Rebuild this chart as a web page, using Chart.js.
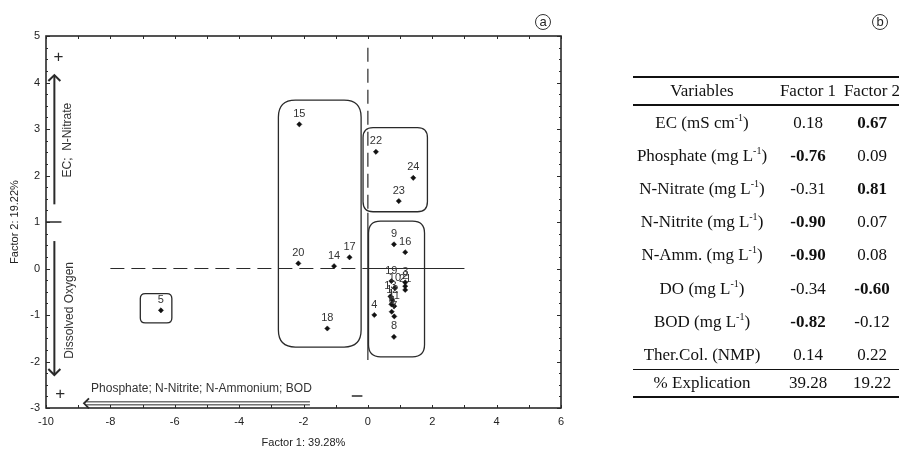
<!DOCTYPE html>
<html>
<head>
<meta charset="utf-8">
<script src="https://cdn.jsdelivr.net/npm/chart.js@4.4.1/dist/chart.umd.min.js"></script>
<style>
  html, body { margin: 0; padding: 0; background: #fff; width: 899px; height: 451px; overflow: hidden; }
  #wrap { position: relative; width: 899px; height: 451px; }
  #c { position: absolute; left: 0; top: 0; }
  .tag { position: absolute; width: 14px; height: 14px; border: 1px solid #333; border-radius: 50%;
         font: 13px "Liberation Sans", Arial, sans-serif; line-height: 13px; text-align: center; color: #222; }
  #tbl { position: absolute; left: 0; top: 0; width: 899px; height: 451px;
         font-family: "Liberation Serif", "Times New Roman", serif; font-size: 17px; color: #111; }
  .rule { position: absolute; left: 633px; width: 266px; background: #111; }
  .cell { position: absolute; white-space: nowrap; transform: translate(-50%, -50%); }
  .cell b { font-weight: bold; }
  sup { font-size: 10px; vertical-align: 7px; line-height: 0; }
</style>
</head>
<body>
<div id="wrap">
  <canvas id="c" width="899" height="451"></canvas>
  <div id="tbl"></div>
  <div class="tag" style="left:535px;top:14px">a</div>
  <div class="tag" style="left:872px;top:14px">b</div>
</div>
<script>
// Sample scores on the first two factors
const sampleIds     = [1, 2, 3, 4, 5, 6, 7, 8, 9, 10, 11, 12, 13, 14, 15, 16, 17, 18, 19, 20, 21, 22, 23, 24];
const factor1Scores = [0.73, 1.16, 1.16, 0.20, -6.43, 0.74, 0.82, 0.81, 0.81, 0.84, 0.82, 0.76, 0.70, -1.05, -2.13, 1.16, -0.57, -1.26, 0.73, -2.16, 1.16, 0.25, 0.96, 1.41];
const factor2Scores = [-0.77, -0.38, -0.30, -1.00, -0.90, -0.93, -1.03, -1.47, 0.52, -0.42, -0.81, -0.68, -0.60, 0.05, 3.10, 0.35, 0.24, -1.29, -0.27, 0.11, -0.46, 2.51, 1.45, 1.95];

// Explained variance (%) of each factor
const explainedVariance = [39.28, 19.22];

// Axis ranges and tick steps
const xRange = [-10, 6];
const yRange = [-3, 5];
const xTickStep = 2;
const yTickStep = 1;

// Sample groups as score extents: [f1 min, f1 max, f2 min, f2 max]
const groupExtents = [
  [-2.78, -0.21, -1.69, 3.62],
  [-0.15, 1.85, 1.22, 3.03],
  [0.02, 1.76, -1.90, 1.02],
  [-7.07, -6.09, -1.17, -0.54]
];

// Factor loadings table
const variableNames = ['EC', 'Phosphate', 'N-Nitrate', 'N-Nitrite', 'N-Amm.', 'DO', 'BOD', 'Ther.Col.'];
const variableUnits = ['mS cm', 'mg L', 'mg L', 'mg L', 'mg L', 'mg L', 'mg L', 'NMP'];
const unitPowers    = ['-1', '-1', '-1', '-1', '-1', '-1', '-1', ''];
const loadings1     = [0.18, -0.76, -0.31, -0.90, -0.90, -0.34, -0.82, 0.14];
const loadings2     = [0.67, 0.09, 0.81, 0.07, 0.08, -0.60, -0.12, 0.22];
const strongLoading = 0.6;

const FONT = '"Liberation Sans", Arial, sans-serif';
Chart.defaults.font.family = FONT;
Chart.defaults.color = '#222';

const points = sampleIds.map((id, i) => ({ x: factor1Scores[i], y: factor2Scores[i], id }));

function chevron(ctx, tx, ty, dir, s) {
  ctx.beginPath();
  if (dir === 'up')   { ctx.moveTo(tx - s, ty + s); ctx.lineTo(tx, ty); ctx.lineTo(tx + s, ty + s); }
  if (dir === 'down') { ctx.moveTo(tx - s, ty - s); ctx.lineTo(tx, ty); ctx.lineTo(tx + s, ty - s); }
  if (dir === 'left') { ctx.moveTo(tx + s, ty - s); ctx.lineTo(tx, ty); ctx.lineTo(tx + s, ty + s); }
  ctx.stroke();
}

function roundRect(ctx, x0, y0, x1, y1, r) {
  ctx.beginPath();
  ctx.moveTo(x0 + r, y0);
  ctx.lineTo(x1 - r, y0);
  ctx.quadraticCurveTo(x1, y0, x1, y0 + r);
  ctx.lineTo(x1, y1 - r);
  ctx.quadraticCurveTo(x1, y1, x1 - r, y1);
  ctx.lineTo(x0 + r, y1);
  ctx.quadraticCurveTo(x0, y1, x0, y1 - r);
  ctx.lineTo(x0, y0 + r);
  ctx.quadraticCurveTo(x0, y0, x0 + r, y0);
  ctx.closePath();
  ctx.stroke();
}

// Frame, inner ticks, reference axes, group outlines and factor arrows
const decorations = {
  id: 'decorations',
  beforeDatasetsDraw(chart) {
    const { ctx, chartArea: a, scales: { x: xs, y: ys } } = chart;
    const X = v => xs.getPixelForValue(v);
    const Y = v => ys.getPixelForValue(v);
    ctx.save();
    ctx.strokeStyle = '#2a2a2a';
    ctx.fillStyle = '#2a2a2a';

    // inner tick marks
    ctx.lineWidth = 1;
    for (let v = xRange[0]; v <= xRange[1]; v += 1) {
      const px = Math.round(X(v)) + 0.5;
      ctx.beginPath();
      ctx.moveTo(px, a.bottom); ctx.lineTo(px, a.bottom - 3);
      ctx.moveTo(px, a.top); ctx.lineTo(px, a.top + 3);
      ctx.stroke();
    }
    for (let v = yRange[0]; v <= yRange[1] + 1e-9; v += 0.25) {
      const py = Math.round(Y(v)) + 0.5;
      const len = Math.abs(v - Math.round(v)) < 1e-9 ? 4 : 2;
      ctx.beginPath();
      ctx.moveTo(a.left, py); ctx.lineTo(a.left + len, py);
      ctx.moveTo(a.right, py); ctx.lineTo(a.right - len, py);
      ctx.stroke();
    }

    // frame
    ctx.lineWidth = 1.6;
    ctx.strokeRect(a.left, a.top, a.right - a.left, a.bottom - a.top);

    // reference axes through the origin
    ctx.lineWidth = 1.2;
    ctx.setLineDash([14, 7]);
    ctx.beginPath();
    ctx.moveTo(X(-8), Y(0)); ctx.lineTo(X(0), Y(0));
    ctx.moveTo(X(0), Y(4.75)); ctx.lineTo(X(0), Y(1.2));
    ctx.stroke();
    ctx.setLineDash([]);
    ctx.beginPath();
    ctx.moveTo(X(0), Y(0)); ctx.lineTo(X(3), Y(0));
    ctx.moveTo(X(0), Y(1.2)); ctx.lineTo(X(0), Y(-1.97));
    ctx.stroke();

    // group outlines
    ctx.lineWidth = 1.3;
    const radii = [17, 10, 12, 5];
    groupExtents.forEach((g, i) => {
      roundRect(ctx, X(g[0]), Y(g[3]), X(g[1]), Y(g[2]), radii[i]);
    });

    // factor direction arrows
    ctx.lineWidth = 2;
    const ax = X(-9.74);
    ctx.beginPath(); ctx.moveTo(ax, Y(1.38)); ctx.lineTo(ax, Y(4.16)); ctx.stroke();
    chevron(ctx, ax, Y(4.16), 'up', 6);
    ctx.beginPath(); ctx.moveTo(ax, Y(0.59)); ctx.lineTo(ax, Y(-2.29)); ctx.stroke();
    chevron(ctx, ax, Y(-2.29), 'down', 6);

    ctx.lineWidth = 1;
    const ay = Y(-2.9);
    ctx.beginPath();
    ctx.moveTo(X(-8.75), ay - 1.5); ctx.lineTo(X(-1.8), ay - 1.5);
    ctx.moveTo(X(-8.75), ay + 1.5); ctx.lineTo(X(-1.8), ay + 1.5);
    ctx.stroke();
    ctx.lineWidth = 1.8;
    chevron(ctx, X(-8.82), ay, 'left', 5);

    // sign marks
    ctx.lineWidth = 1.5;
    ctx.beginPath();
    ctx.moveTo(X(-10), Y(1)); ctx.lineTo(X(-9.52), Y(1));
    ctx.moveTo(X(-0.5), Y(-2.74)); ctx.lineTo(X(-0.17), Y(-2.74));
    ctx.stroke();
    ctx.font = '17px ' + FONT;
    ctx.textAlign = 'center';
    ctx.textBaseline = 'middle';
    ctx.fillText('+', X(-9.61), Y(4.55));
    ctx.fillText('+', X(-9.56), Y(-2.70));

    // arrow captions
    ctx.font = '12px ' + FONT;
    ctx.fillStyle = '#333';
    ctx.textAlign = 'left';
    ctx.fillText('Phosphate; N-Nitrite; N-Ammonium; BOD', X(-8.6), Y(-2.58));
    ctx.textAlign = 'center';
    ctx.save();
    ctx.translate(X(-9.33), Y(2.76)); ctx.rotate(-Math.PI / 2);
    ctx.fillText('EC;  N-Nitrate', 0, 0);
    ctx.restore();
    ctx.save();
    ctx.translate(X(-9.27), Y(-0.9)); ctx.rotate(-Math.PI / 2);
    ctx.fillText('Dissolved Oxygen', 0, 0);
    ctx.restore();
    ctx.restore();
  },
  afterDatasetsDraw(chart) {
    const { ctx } = chart;
    const meta = chart.getDatasetMeta(0);
    ctx.save();
    ctx.font = '11px ' + FONT;
    ctx.fillStyle = '#333';
    ctx.textAlign = 'center';
    ctx.textBaseline = 'bottom';
    meta.data.forEach((el, i) => {
      ctx.fillText(String(sampleIds[i]), el.x, el.y - 5);
    });
    ctx.restore();
  }
};

new Chart(document.getElementById('c'), {
  type: 'scatter',
  data: {
    datasets: [{
      data: points,
      pointStyle: 'rectRot',
      radius: 2.6,
      hoverRadius: 2.6,
      backgroundColor: '#111',
      borderColor: '#111',
      borderWidth: 0.5
    }]
  },
  options: {
    responsive: false,
    animation: false,
    devicePixelRatio: 1,
    layout: { padding: { left: 0, right: 338, top: 36, bottom: 0 } },
    plugins: { legend: { display: false }, tooltip: { enabled: false } },
    scales: {
      x: {
        type: 'linear', min: xRange[0], max: xRange[1],
        grid: { display: false, drawTicks: false },
        border: { display: false },
        ticks: { stepSize: xTickStep, padding: 7, font: { size: 11 }, color: '#222' },
        title: { display: true, text: 'Factor 1: ' + explainedVariance[0].toFixed(2) + '%',
                 font: { size: 11 }, color: '#222', padding: { top: 4, bottom: 1 } },
        afterFit(s) { s.height = 43; }
      },
      y: {
        type: 'linear', min: yRange[0], max: yRange[1],
        grid: { display: false, drawTicks: false },
        border: { display: false },
        ticks: { stepSize: yTickStep, padding: 6, font: { size: 11 }, color: '#222' },
        title: { display: true, text: 'Factor 2: ' + explainedVariance[1].toFixed(2) + '%',
                 font: { size: 11 }, color: '#222', padding: { top: 8, bottom: 4 } },
        afterFit(s) { s.width = 46; }
      }
    }
  },
  plugins: [decorations]
});

// Loadings table
const tbl = document.getElementById('tbl');
const colX = [702, 808, 872];
function rule(top, h) {
  const d = document.createElement('div');
  d.className = 'rule';
  d.style.top = top + 'px';
  d.style.height = h + 'px';
  tbl.appendChild(d);
}
function cell(html, x, y) {
  const d = document.createElement('div');
  d.className = 'cell';
  d.style.left = x + 'px';
  d.style.top = y + 'px';
  d.innerHTML = html;
  tbl.appendChild(d);
}
function fmt(v) {
  const s = v.toFixed(2);
  return Math.abs(v) >= strongLoading ? '<b>' + s + '</b>' : s;
}
rule(76, 1.5);
rule(104, 1.5);
rule(369, 1);
rule(396, 1.5);
cell('Variables', colX[0], 91);
cell('Factor 1', colX[1], 91);
cell('Factor 2', colX[2], 91);
variableNames.forEach((name, i) => {
  const y = 123 + 33.1 * i;
  const unit = variableUnits[i] + (unitPowers[i] ? '<sup>' + unitPowers[i] + '</sup>' : '');
  cell(name + ' (' + unit + ')', colX[0], y);
  cell(fmt(loadings1[i]), colX[1], y);
  cell(fmt(loadings2[i]), colX[2], y);
});
cell('% Explication', colX[0], 383);
cell(explainedVariance[0].toFixed(2), colX[1], 383);
cell(explainedVariance[1].toFixed(2), colX[2], 383);
</script>
</body>
</html>
